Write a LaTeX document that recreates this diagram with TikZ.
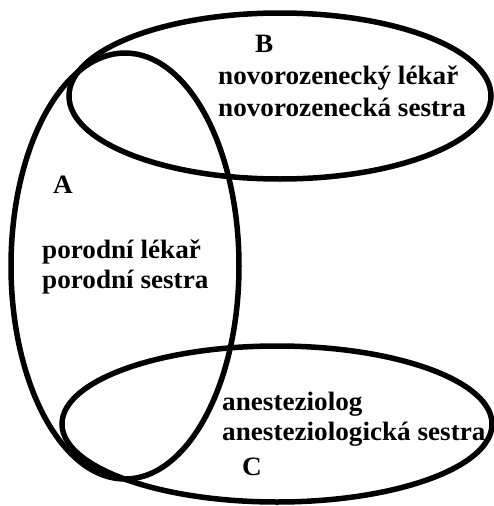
\documentclass[tikz,border=0pt]{standalone}
\usepackage{fontspec}
\setmainfont{Liberation Serif}[FakeStretch=1.025]
\begin{document}
\begin{tikzpicture}[x=1pt,y=-1pt,
  ring/.style={line width=5.5pt,black},
  label/.style={font=\fontsize{26.5}{31}\selectfont\bfseries,inner sep=0pt,anchor=base west}]
\useasboundingbox (0,0) rectangle (494,506);
% the three sets
\draw[ring] (125,266) ellipse [x radius=114, y radius=213];
\draw[ring] (280,96) ellipse [x radius=211, y radius=83];
\draw[ring] (277,424) ellipse [x radius=215, y radius=78];
% set B
\node[label] (bname) at (255,52) {B};
\node[label] (b1) at (218,84) {novorozenecký lékař};
\node[label] (b2) at (218,116) {novorozenecká sestra};
% set A
\node[label] (aname) at (53,193) {A};
\node[label] (a1) at (42,258) {porodní lékař};
\node[label] (a2) at (42,288) {porodní sestra};
% set C
\node[label] (c1) at (222,410) {anesteziolog};
\node[label] (c2) at (222,440) {anesteziologická sestra};
\node[label] (cname) at (242,475) {C};
\end{tikzpicture}
\end{document}
